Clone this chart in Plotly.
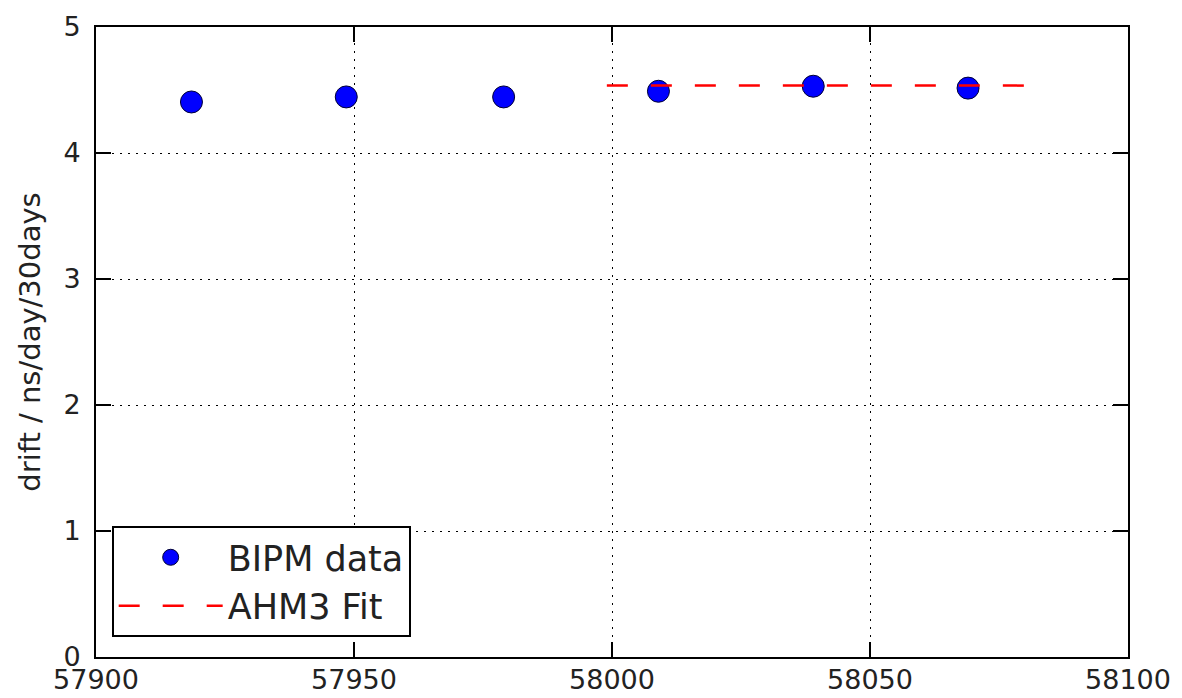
import plotly.graph_objects as go

# BIPM data points (MJD, drift in ns/day/30days)
bipm_mjd = [57918.5, 57948.5, 57979.0, 58009.0, 58039.0, 58069.0]
bipm_drift = [4.405, 4.445, 4.445, 4.49, 4.53, 4.515]

# AHM3 fit line
fit_mjd = [57999.0, 58081.0]
fit_drift = [4.535, 4.535]

x_ticks = [57900, 57950, 58000, 58050, 58100]
y_ticks = [0, 1, 2, 3, 4, 5]

FONT = "DejaVu Sans"

fig = go.Figure()
fig.add_trace(go.Scatter(
    x=bipm_mjd, y=bipm_drift, mode="markers", name="BIPM data",
    marker=dict(size=22, color="#0000ff", line=dict(color="#000033", width=1)),
))
fig.add_trace(go.Scatter(
    x=fit_mjd, y=fit_drift, mode="lines", name="AHM3 Fit",
    line=dict(color="#ff0000", width=2.5, dash="21px,23px"),
))

axis_common = dict(
    showline=True, linecolor="black", linewidth=2, mirror="ticks",
    ticks="inside", ticklen=15, tickwidth=1.5, tickcolor="black",
    showgrid=True, gridcolor="black", gridwidth=1, griddash="2px,6px",
    zeroline=False, automargin=False,
    tickfont=dict(family=FONT, size=27, color="#222222"),
)

fig.update_xaxes(range=[57900, 58100], tickvals=x_ticks,
                 ticktext=[str(v) for v in x_ticks], ticklabelstandoff=-2,
                 **axis_common)
fig.update_yaxes(range=[0, 5], tickvals=y_ticks,
                 ticktext=[str(v) for v in y_ticks], ticklabelstandoff=8,
                 title=dict(text="drift / ns/day/30days",
                            font=dict(family=FONT, size=29, color="#222222"),
                            standoff=14),
                 **axis_common)

# page body has an 8px default margin, so the figure is sized to fit the window
fig.update_layout(
    width=1174, height=690,
    margin=dict(l=88, r=54, t=19, b=41),
    paper_bgcolor="white", plot_bgcolor="white",
    showlegend=True,
    legend=dict(
        x=0.0152, y=0.0317, xanchor="left", yanchor="bottom",
        bgcolor="white", bordercolor="black", borderwidth=2,
        font=dict(family=FONT, size=35, color="#222222"),
        itemwidth=104, tracegroupgap=0,
    ),
)

fig.write_html("out.html")
